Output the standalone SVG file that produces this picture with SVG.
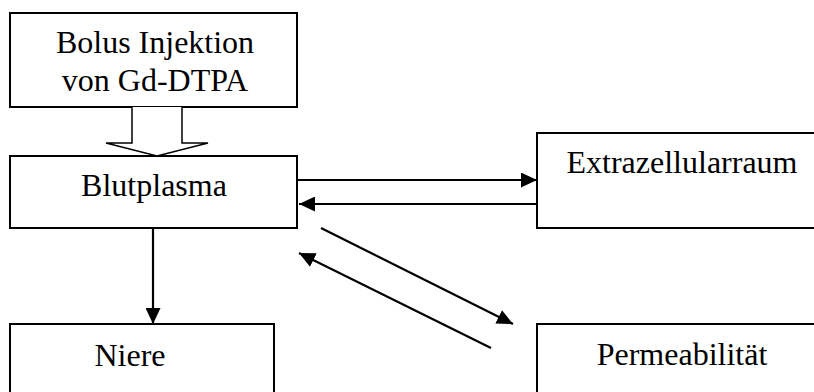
<svg xmlns="http://www.w3.org/2000/svg" width="814" height="392" viewBox="0 0 814 392">
<style>
.box{fill:#fff;stroke:#000;stroke-width:2}
.t{font-family:"Liberation Serif","Times New Roman",serif;font-size:32px;fill:#000;text-anchor:middle}
.c{stroke:#000;stroke-width:2.2;fill:none}
</style>
<defs>
<marker id="ah" viewBox="0 0 16 15" refX="16" refY="7.5" markerWidth="16" markerHeight="15" markerUnits="userSpaceOnUse" orient="auto">
<path d="M0,0 L16,7.5 L0,15 Z" fill="#000"/>
</marker>
</defs>
<rect width="814" height="392" fill="#fff"/>
<g id="bolus">
<rect class="box" x="10" y="13" width="287" height="94"/>
<text class="t" x="155" y="53">Bolus Injektion</text>
<text class="t" x="155" y="91">von Gd-DTPA</text>
</g>
<g id="blutplasma">
<rect class="box" x="10" y="156" width="287" height="72"/>
<text class="t" x="154" y="196">Blutplasma</text>
</g>
<g id="extrazellularraum">
<rect class="box" x="537" y="133" width="290" height="95"/>
<text class="t" x="682" y="173">Extrazellularraum</text>
</g>
<g id="niere">
<rect class="box" x="10" y="324" width="264" height="80"/>
<text class="t" x="130" y="366">Niere</text>
</g>
<g id="permeabilitaet">
<rect class="box" x="537" y="324" width="290" height="80"/>
<text class="t" x="682" y="365">Permeabilität</text>
</g>
<g id="connectors">
<path d="M132,107 V143 H106 L157,156 L208,143 H182 V107" fill="#fff" stroke="#000" stroke-width="1.5" stroke-linejoin="miter"/>
<line class="c" x1="297" y1="180" x2="537" y2="180" marker-end="url(#ah)"/>
<line class="c" x1="537" y1="204" x2="299" y2="204" marker-end="url(#ah)"/>
<line class="c" x1="153" y1="228" x2="153" y2="324" marker-end="url(#ah)"/>
<line class="c" x1="321" y1="228" x2="513" y2="324" marker-end="url(#ah)"/>
<line class="c" x1="491" y1="348" x2="299" y2="253" marker-end="url(#ah)"/>
</g>
</svg>
